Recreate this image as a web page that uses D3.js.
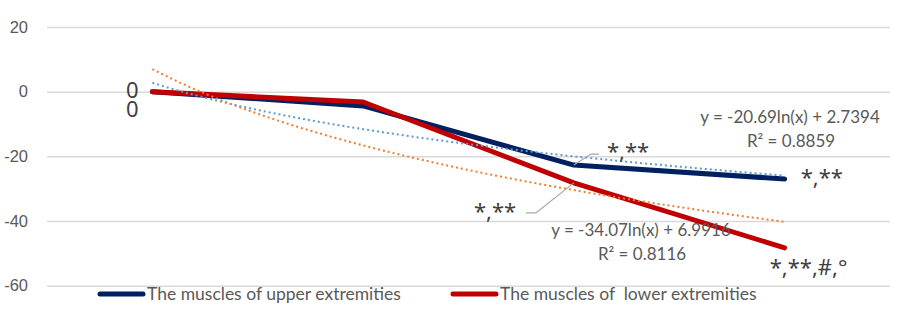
<!DOCTYPE html>
<html>
<head>
<meta charset="utf-8">
<script src="https://cdn.jsdelivr.net/npm/d3@7"></script>
<style>
  body { margin: 0; background: #fff; }
  svg { display: block; font-family: Lato, "Open Sans", sans-serif; }
  .axis text { fill: #595959; font-size: 16.5px; }
  .axis line { stroke: #d9d9d9; stroke-width: 1.5; }
  .axis .domain { display: none; }
  .eq { fill: #595959; font-size: 17px; text-anchor: middle; }
  .legend text { fill: #595959; font-size: 17.5px; white-space: pre; }
  .dlabel { fill: #404040; font-size: 22px; font-family: "Noto Sans", sans-serif; }
</style>
</head>
<body>
<div id="chart"></div>
<script>
// chart values
const categories = ["1", "2", "3", "4"]
const upperValues = [0, -4.4, -22.7, -27.0]
const lowerValues = [0, -3.2, -28.2, -48.3]
const upperLabels = ["0", "", "*,**", "*,**"]
const lowerLabels = ["0", "", "*,**", "*,**,#,°"]
// log trendlines: slope, intercept, R²
const upperTrend = [-20.69, 2.7394, 0.8859]
const lowerTrend = [-34.07, 6.9916, 0.8116]
const yTicks = [20, 0, -20, -40, -60]
const seriesNames = ["The muscles of upper extremities", "The muscles of  lower extremities"]

const W = 901, H = 322
const UPPER_COLOR = "#002060", LOWER_COLOR = "#c00000"
const UPPER_TREND_COLOR = "#5b9bd5", LOWER_TREND_COLOR = "#ed7d31"

var plot = { left: 47, right: 890, top: 27, bottom: 285.7 }

var svg = d3.select("#chart").append("svg")
    .attr("width", W)
    .attr("height", H)

var x = d3.scaleBand()
    .domain(categories)
    .range([plot.left, plot.right])
var xc = d => x(d) + x.bandwidth() / 2

var y = d3.scaleLinear()
    .domain([-60, 20])
    .range([plot.bottom, plot.top])

svg.append("g")
    .attr("class", "axis")
    .attr("transform", "translate(" + plot.left + ",0)")
    .call(d3.axisLeft(y)
        .tickValues(yTicks)
        .tickSize(-(plot.right - plot.left))
        .tickPadding(19)
        .tickFormat(d => String(d)))

// trend x runs 1..4 across the category centres
var xt = d3.scaleLinear()
    .domain([1, categories.length])
    .range([xc(categories[0]), xc(categories[categories.length - 1])])

var line = d3.line()
    .x((d, i) => xc(categories[i]))
    .y(d => y(d))

function drawSeries(values, color) {
    svg.append("path")
        .datum(values)
        .attr("d", line)
        .attr("fill", "none")
        .attr("stroke", color)
        .attr("stroke-width", 5)
        .attr("stroke-linejoin", "round")
        .attr("stroke-linecap", "round")
}

function drawTrend(coef, color) {
    var pts = d3.range(1, categories.length + 0.001, 0.05)
    svg.append("path")
        .datum(pts)
        .attr("d", d3.line()
            .x(t => xt(t))
            .y(t => y(coef[0] * Math.log(t) + coef[1])))
        .attr("fill", "none")
        .attr("stroke", color)
        .attr("stroke-width", 2)
        .attr("stroke-dasharray", "2 3")
}

drawSeries(upperValues, UPPER_COLOR)
drawSeries(lowerValues, LOWER_COLOR)
drawTrend(upperTrend, UPPER_TREND_COLOR)
drawTrend(lowerTrend, LOWER_TREND_COLOR)

// data label placement (offsets from the point, px)
var upperOffsets = [[-20, 25, "middle"], null, [33, -6, "start"], [16, 6, "start"]]
var lowerOffsets = [[-20, 6, "middle"], null, [-100, 36, "start"], [-15, 27, "start"]]

function drawLabels(values, labels, offsets) {
    svg.selectAll(null)
        .data(values.map((v, i) => ({ v: v, i: i, text: labels[i], off: offsets[i] })).filter(d => d.text))
        .enter().append("text")
        .attr("class", "dlabel")
        .attr("x", d => xc(categories[d.i]) + d.off[0])
        .attr("y", d => y(d.v) + d.off[1])
        .style("text-anchor", d => d.off[2])
        .text(d => d.text)
}

drawLabels(upperValues, upperLabels, upperOffsets)
drawLabels(lowerValues, lowerLabels, lowerOffsets)

// leader lines for the two labels pulled off their points
function leader(i, values, pts) {
    var px = xc(categories[i]), py = y(values[i])
    svg.append("polyline")
        .attr("points", [[px, py]].concat(pts.map(p => [px + p[0], py + p[1]])).join(" "))
        .attr("fill", "none")
        .attr("stroke", "#a6a6a6")
        .attr("stroke-width", 1.2)
}
leader(2, upperValues, [[17, -11], [25, -11]])
leader(2, lowerValues, [[-38, 30], [-48, 30]])

// trendline equations
function drawEquation(coef, cx, cy) {
    svg.append("text").attr("class", "eq")
        .attr("x", cx).attr("y", cy)
        .text("y = " + coef[0] + "ln(x) + " + coef[1])
    svg.append("text").attr("class", "eq")
        .attr("x", cx + 1).attr("y", cy + 24)
        .text("R² = " + coef[2])
}
drawEquation(upperTrend, 790, 123)
drawEquation(lowerTrend, 641, 236)

// legend
var legend = svg.append("g").attr("class", "legend")
var legendX = [100, 453]
;[UPPER_COLOR, LOWER_COLOR].forEach((c, i) => {
    legend.append("line")
        .attr("x1", legendX[i]).attr("x2", legendX[i] + 43)
        .attr("y1", 294).attr("y2", 294)
        .attr("stroke", c)
        .attr("stroke-width", 5)
        .attr("stroke-linecap", "round")
    legend.append("text")
        .attr("x", legendX[i] + 47)
        .attr("y", 300)
        .text(seriesNames[i])
})
</script>
</body>
</html>
